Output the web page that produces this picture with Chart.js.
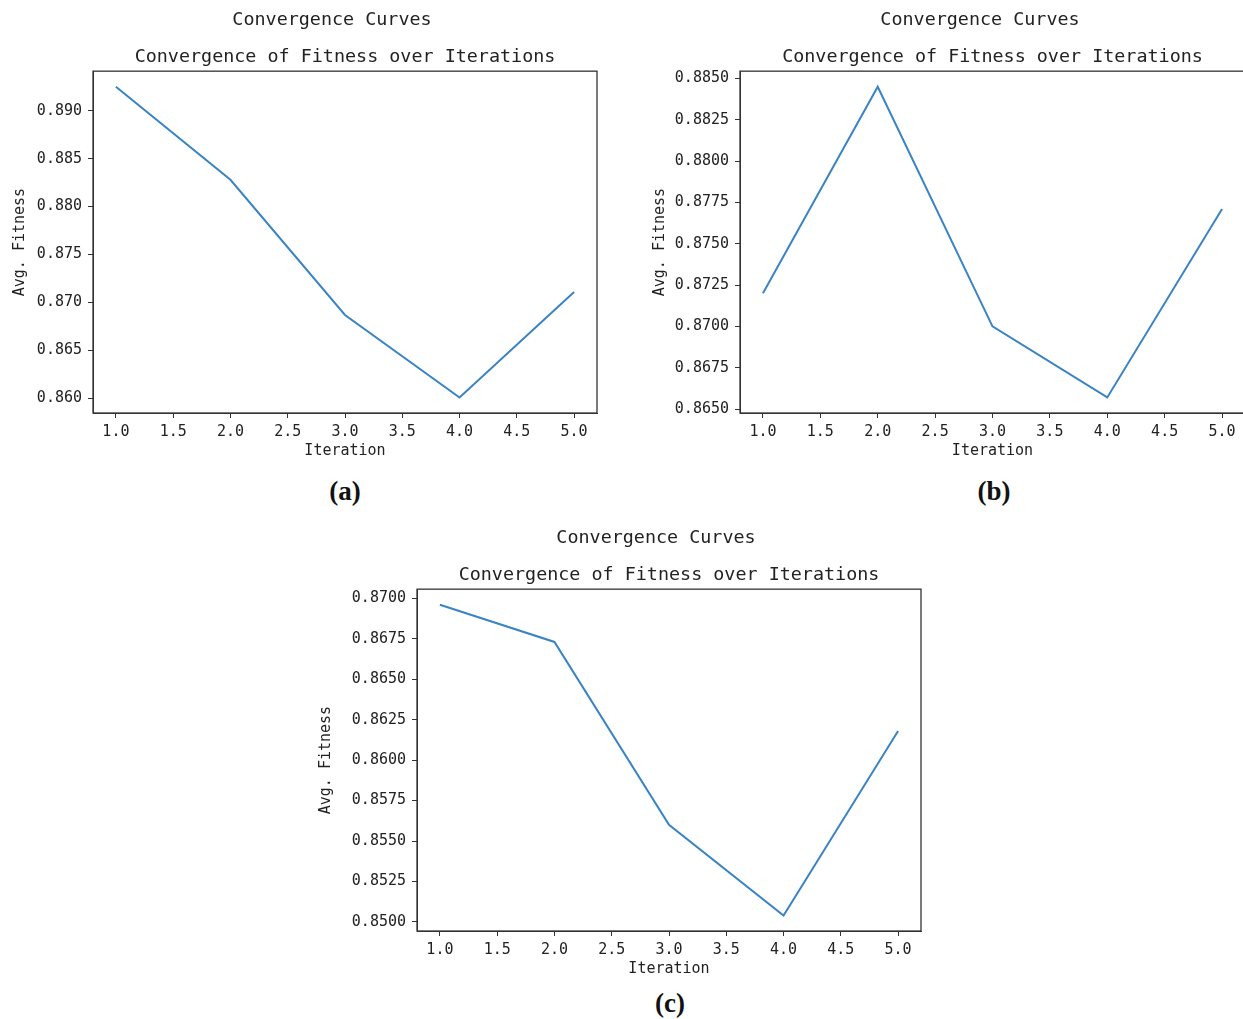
<!DOCTYPE html>
<html>
<head>
<meta charset="utf-8">
<script src="https://cdn.jsdelivr.net/npm/chart.js@4.4.1/dist/chart.umd.min.js"></script>
<style>
html, body { margin: 0; padding: 0; background: #fff; width: 1243px; height: 1019px; overflow: hidden; position: relative; }
canvas { position: absolute; }
.cap { position: absolute; font: bold 27px "Liberation Serif", serif; color: #111; transform: translate(-50%, -50%); }
</style>
</head>
<body>
<canvas id="chartA" width="664" height="460" style="left:0px;top:0px"></canvas>
<canvas id="chartB" width="680" height="460" style="left:640px;top:0px"></canvas>
<canvas id="chartC" width="700" height="460" style="left:306px;top:518px"></canvas>
<div class="cap" style="left:345px;top:491px">(a)</div>
<div class="cap" style="left:994px;top:491px">(b)</div>
<div class="cap" style="left:670px;top:1003px">(c)</div>
<script>
// values
const iterations = [1, 2, 3, 4, 5];
const fitnessA = [0.8925, 0.8828, 0.8687, 0.8601, 0.8711];
const fitnessB = [0.8720, 0.8845, 0.8700, 0.8657, 0.8771];
const fitnessC = [0.8696, 0.8673, 0.8560, 0.8504, 0.8618];

const xTickLabels = ['1.0', '1.5', '2.0', '2.5', '3.0', '3.5', '4.0', '4.5', '5.0'];
const yTickLabelsA = ['0.860', '0.865', '0.870', '0.875', '0.880', '0.885', '0.890'];
const yTickLabelsB = ['0.8650', '0.8675', '0.8700', '0.8725', '0.8750', '0.8775', '0.8800', '0.8825', '0.8850'];
const yTickLabelsC = ['0.8500', '0.8525', '0.8550', '0.8575', '0.8600', '0.8625', '0.8650', '0.8675', '0.8700'];

const supTitle = 'Convergence Curves';
const axTitle = 'Convergence of Fitness over Iterations';
const xLabel = 'Iteration';
const yLabel = 'Avg. Fitness';

const MONO = '"DejaVu Sans Mono", monospace';
const INK = '#222';
const LINE = '#3a84c4';

// box round the plot area, like matplotlib spines
const frame = {
  id: 'frame',
  afterDatasetsDraw(chart) {
    const a = chart.chartArea;
    const ctx = chart.ctx;
    ctx.save();
    ctx.strokeStyle = '#333';
    ctx.lineWidth = 1.3;
    ctx.strokeRect(a.left, a.top, a.right - a.left, a.bottom - a.top);
    ctx.restore();
  }
};

function makeChart(id, values, yTicks, yWidth, padRight) {
  // matplotlib-ish 5% margin round the data
  const r = Math.max(...values) - Math.min(...values);
  const yMin = Math.min(...values) - r * 0.05;
  const yMax = Math.max(...values) + r * 0.05;
  const xr = iterations[iterations.length - 1] - iterations[0];

  return new Chart(document.getElementById(id), {
    type: 'line',
    data: {
      datasets: [{
        data: iterations.map((x, i) => ({ x: x, y: values[i] })),
        borderColor: LINE,
        borderWidth: 2,
        pointRadius: 0,
        tension: 0,
        fill: false
      }]
    },
    options: {
      responsive: false,
      animation: false,
      layout: { padding: 0, autoPadding: false },
      plugins: {
        legend: { display: false },
        tooltip: { enabled: false },
        title: {
          display: true, text: supTitle, color: INK,
          font: { family: MONO, size: 18.4, weight: 'normal' },
          padding: { top: 9, bottom: 5 }
        },
        subtitle: {
          display: true, text: axTitle, color: INK, fullSize: false,
          font: { family: MONO, size: 18.4, weight: 'normal' },
          padding: { top: 10, bottom: 3 }
        }
      },
      scales: {
        x: {
          type: 'linear',
          min: iterations[0] - xr * 0.05,
          max: iterations[iterations.length - 1] + xr * 0.05,
          afterBuildTicks: s => { s.ticks = xTickLabels.map(t => ({ value: Number(t) })); },
          afterFit: s => { s.height = 47; },
          ticks: {
            autoSkip: false, maxRotation: 0, color: INK, padding: 5,
            font: { family: MONO, size: 15 },
            callback: (v, i) => xTickLabels[i]
          },
          grid: { display: true, drawOnChartArea: false, drawTicks: true, tickLength: 5, color: '#333' },
          border: { display: true, color: '#333' },
          title: {
            display: true, text: xLabel, color: INK,
            font: { family: MONO, size: 15 },
            padding: { top: 0, bottom: 0 }
          }
        },
        y: {
          type: 'linear',
          position: 'left',
          min: yMin, max: yMax,
          afterBuildTicks: s => { s.ticks = yTicks.map(t => ({ value: Number(t) })); },
          afterFit: s => { s.width = yWidth; },
          ticks: {
            autoSkip: false, color: INK, padding: 6,
            font: { family: MONO, size: 15 },
            callback: (v, i) => yTicks[i]
          },
          grid: { display: true, drawOnChartArea: false, drawTicks: true, tickLength: 5, color: '#333' },
          border: { display: true, color: '#333' },
          title: {
            display: true, text: yLabel, color: INK,
            font: { family: MONO, size: 15 },
            padding: { top: 11, bottom: 0 }
          }
        },
        // empty right-hand spacer so the top title centres like a figure title
        pad: {
          type: 'linear', position: 'right', display: true,
          grid: { display: false }, border: { display: false }, ticks: { display: false },
          afterFit: s => { s.width = padRight; }
        }
      }
    },
    plugins: [frame]
  });
}

makeChart('chartA', fitnessA, yTickLabelsA, 93, 67);
makeChart('chartB', fitnessB, yTickLabelsB, 100, 75);
makeChart('chartC', fitnessC, yTickLabelsC, 111, 85);
</script>
</body>
</html>
